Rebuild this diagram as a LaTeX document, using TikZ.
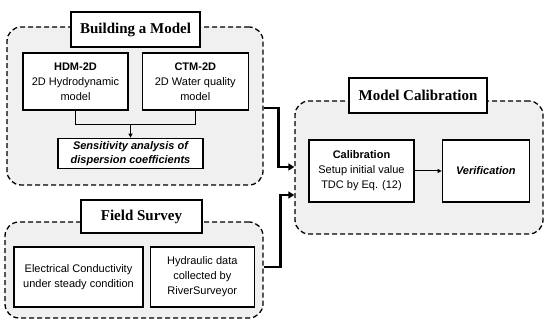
\documentclass[tikz,border=0pt]{standalone}
\usepackage{fontspec}
\setmainfont{Liberation Serif}
\setsansfont{Liberation Sans}
\usepackage{tikz}
\usetikzlibrary{arrows.meta, positioning, calc}
\tikzset{
  group/.style={rectangle, rounded corners=14pt, draw=black, fill=black!6,
                line width=1.3pt, dash pattern=on 5pt off 3pt},
  headbox/.style={rectangle, draw=black, fill=white, line width=1.3pt,
                  font=\fontsize{15}{17}\selectfont\bfseries, align=center},
  stepbox/.style={rectangle, draw=black, fill=white, line width=1.3pt,
                  align=center, font=\sffamily\fontsize{11}{15}\selectfont},
  thick arrow/.style={-{Triangle[length=6pt,width=7pt]}, line width=2.6pt},
  thin arrow/.style={-{Triangle[length=4pt,width=4pt]}, line width=1pt},
}

\begin{document}
\begin{tikzpicture}[x=1pt, y=1pt]
  \useasboundingbox (0,0) rectangle (550,326);

  % building a model
  \node[group, minimum width=256pt, minimum height=158pt] (build) at (135,220) {};
  \node[headbox, minimum width=129pt, minimum height=35pt] (buildT) at (135.5,296.5) {Building a Model};
  \node[stepbox, minimum width=105pt, minimum height=57pt] (hdm) at (75.5,244.5)
       {\textbf{HDM-2D}\\2D Hydrodynamic\\model};
  \node[stepbox, minimum width=106pt, minimum height=57pt, right=13pt of hdm] (ctm)
       {\textbf{CTM-2D}\\2D Water quality\\model};
  \node[stepbox, minimum width=145pt, minimum height=29pt, font=\sffamily\fontsize{11}{13.5}\selectfont\bfseries\itshape]
       (sens) at (130.5,172.5) {Sensitivity analysis of\\dispersion coefficients};

  % field survey
  \node[group, minimum width=258pt, minimum height=96pt] (field) at (134,56) {};
  \node[headbox, minimum width=121pt, minimum height=33pt] (fieldT) at (141.5,109.5) {Field Survey};
  \node[stepbox, minimum width=129pt, minimum height=60pt] (ec) at (78.5,49)
       {Electrical Conductivity\\under steady condition};
  \node[stepbox, minimum width=104pt, minimum height=60pt, right=6pt of ec] (hyd)
       {Hydraulic data\\collected by\\RiverSurveyor};

  % model calibration
  \node[group, minimum width=248pt, minimum height=133pt] (calib) at (419,158.5) {};
  \node[headbox, minimum width=138pt, minimum height=35pt] (calibT) at (418,230.5) {Model Calibration};
  \node[stepbox, minimum width=105pt, minimum height=62pt] (cal) at (361.5,155)
       {\textbf{Calibration}\\Setup initial value\\TDC by Eq. (12)};
  \node[stepbox, minimum width=87pt, minimum height=62pt, right=27pt of cal,
        font=\sffamily\fontsize{11}{13}\selectfont\bfseries\itshape] (ver) {Verification};

  \coordinate (inA) at ([yshift=0.5pt]calib.west);
  \coordinate (inB) at ([yshift=-27.5pt]calib.west);

  \draw[line width=1pt] (hdm.south) -- ++(0,-14) coordinate (hb) -| (ctm.south);
  \draw[thin arrow] (hb -| sens.north) -- (sens.north);
  \draw[thin arrow] (cal.east) -- (ver.west);
  \draw[thick arrow] ([yshift=-2pt]build.east) -- ++(15,0) |- (inA);
  \draw[thick arrow] ([yshift=3pt]field.east) -- ++(17,0) |- (inB);
\end{tikzpicture}
\end{document}
